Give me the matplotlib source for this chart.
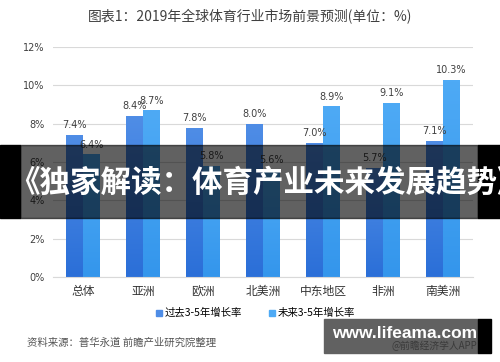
import numpy as np
import matplotlib
matplotlib.use('Agg')
import matplotlib.pyplot as plt
from matplotlib.patches import Rectangle

plt.rcParams['font.family'] = ['Noto Sans CJK SC', 'DejaVu Sans']
plt.rcParams['axes.unicode_minus'] = False

# ---- 数据 ----
regions = ['总体', '亚洲', '欧洲', '北美洲', '中东地区', '非洲', '南美洲']
past = [7.4, 8.4, 7.8, 8.0, 7.0, 5.7, 7.1]
future = [6.4, 8.7, 5.8, 5.6, 8.9, 9.1, 10.3]
series_names = ['过去3-5年增长率', '未来3-5年增长率']
yticks = [0, 2, 4, 6, 8, 10, 12]

c_past = ('#2b6fd8', '#4f8de6')    # bottom, top
c_future = ('#3496ec', '#4eaaf5')

fig = plt.figure(figsize=(5, 3.62), dpi=100)
ax = fig.add_axes([0.106, 0.2348, 0.84, 0.6352])

x = np.arange(len(regions))
w = 0.28
b1 = ax.bar(x - w / 2, past, w, color=c_past[1], label=series_names[0], zorder=2)
b2 = ax.bar(x + w / 2, future, w, color=c_future[1], label=series_names[1], zorder=2)


def gradient(bars, cols):
    cmap = matplotlib.colors.LinearSegmentedColormap.from_list('g', cols)
    for b in bars:
        x0, y0 = b.get_x(), b.get_y()
        im = ax.imshow(np.linspace(0, 1, 64).reshape(-1, 1), cmap=cmap, origin='lower',
                       extent=[x0, x0 + b.get_width(), y0, y0 + b.get_height()],
                       aspect='auto', zorder=2.5)
        im.set_clip_path(b)


gradient(b1, c_past)
gradient(b2, c_future)

for bars, vals in ((b1, past), (b2, future)):
    for b, v in zip(bars, vals):
        ax.text(b.get_x() + b.get_width() / 2, v + 0.25, f'{v:.1f}%', ha='center', va='bottom',
                fontsize=7, color='#404040', family=['DejaVu Sans'])

ax.set_xlim(-0.5, len(regions) - 0.5)
ax.set_ylim(0, 12)
ax.set_yticks(yticks)
ax.set_yticklabels([f'{t}%' for t in yticks], fontsize=7, color='#404040', family=['DejaVu Sans'])
ax.set_xticks(x)
ax.set_xticklabels(regions, fontsize=8.5, color='#333333')
ax.tick_params(length=0, pad=6)
ax.grid(axis='y', color='#d9d9d9', linewidth=0.8, zorder=0)
for s in ['top', 'right', 'left']:
    ax.spines[s].set_visible(False)
ax.spines['bottom'].set_color('#d9d9d9')

fig.text(0.5, 0.955, '图表1：2019年全球体育行业市场前景预测(单位：%)', ha='center', va='center',
         fontsize=10, color='#404040')

handles = [plt.Line2D([], [], marker='s', linestyle='', markersize=5, color=c) for c in (c_past[1], c_future[1])]
fig.legend(handles, series_names, loc='center', bbox_to_anchor=(0.51, 0.135), ncol=2, frameon=False,
           fontsize=7.5, handletextpad=0.1, columnspacing=2.5, handlelength=0.8)

fig.text(0.054, 0.053, '资料来源：普华永道 前瞻产业研究院整理', ha='left', va='center', fontsize=7.5, color='#555555')

# ---- 覆盖横幅 ----
band_y0, band_y1 = 1 - 218 / 362, 1 - 145 / 362
fig.patches.append(Rectangle((0, band_y0), 0.04, band_y1 - band_y0, transform=fig.transFigure,
                             color='black', zorder=5))
fig.patches.append(Rectangle((0.956, band_y0), 0.044, band_y1 - band_y0, transform=fig.transFigure,
                             color='black', zorder=5))
fig.patches.append(Rectangle((0.04, band_y0), 0.916, band_y1 - band_y0, transform=fig.transFigure,
                             color='black', alpha=0.62, zorder=5))
fig.text(0.018, 1 - 183 / 362, '《独家解读：体育产业未来发展趋势》', ha='left', va='center',
         fontsize=22, fontweight='bold', color='white', zorder=6)

# ---- 右下角水印 ----
fig.patches.append(Rectangle((0.648, 1 - 353 / 362), 0.308, 34 / 362, transform=fig.transFigure,
                             color='#616161', zorder=5))
fig.patches.append(Rectangle((0.956, 1 - 353 / 362), 0.026, 34 / 362, transform=fig.transFigure,
                             color='black', zorder=5))
fig.text(0.955, 1 - 346 / 362, '@前瞻经济学人APP', ha='right', va='center', fontsize=7,
         color='#3a3a3a', zorder=6)
fig.text(0.81, 1 - 333 / 362, 'www.lifeama.com', ha='center', va='center', fontsize=12.5,
         fontweight='bold', color='white', family=['Liberation Sans'], zorder=7)

fig.savefig('out.png', dpi=100)
